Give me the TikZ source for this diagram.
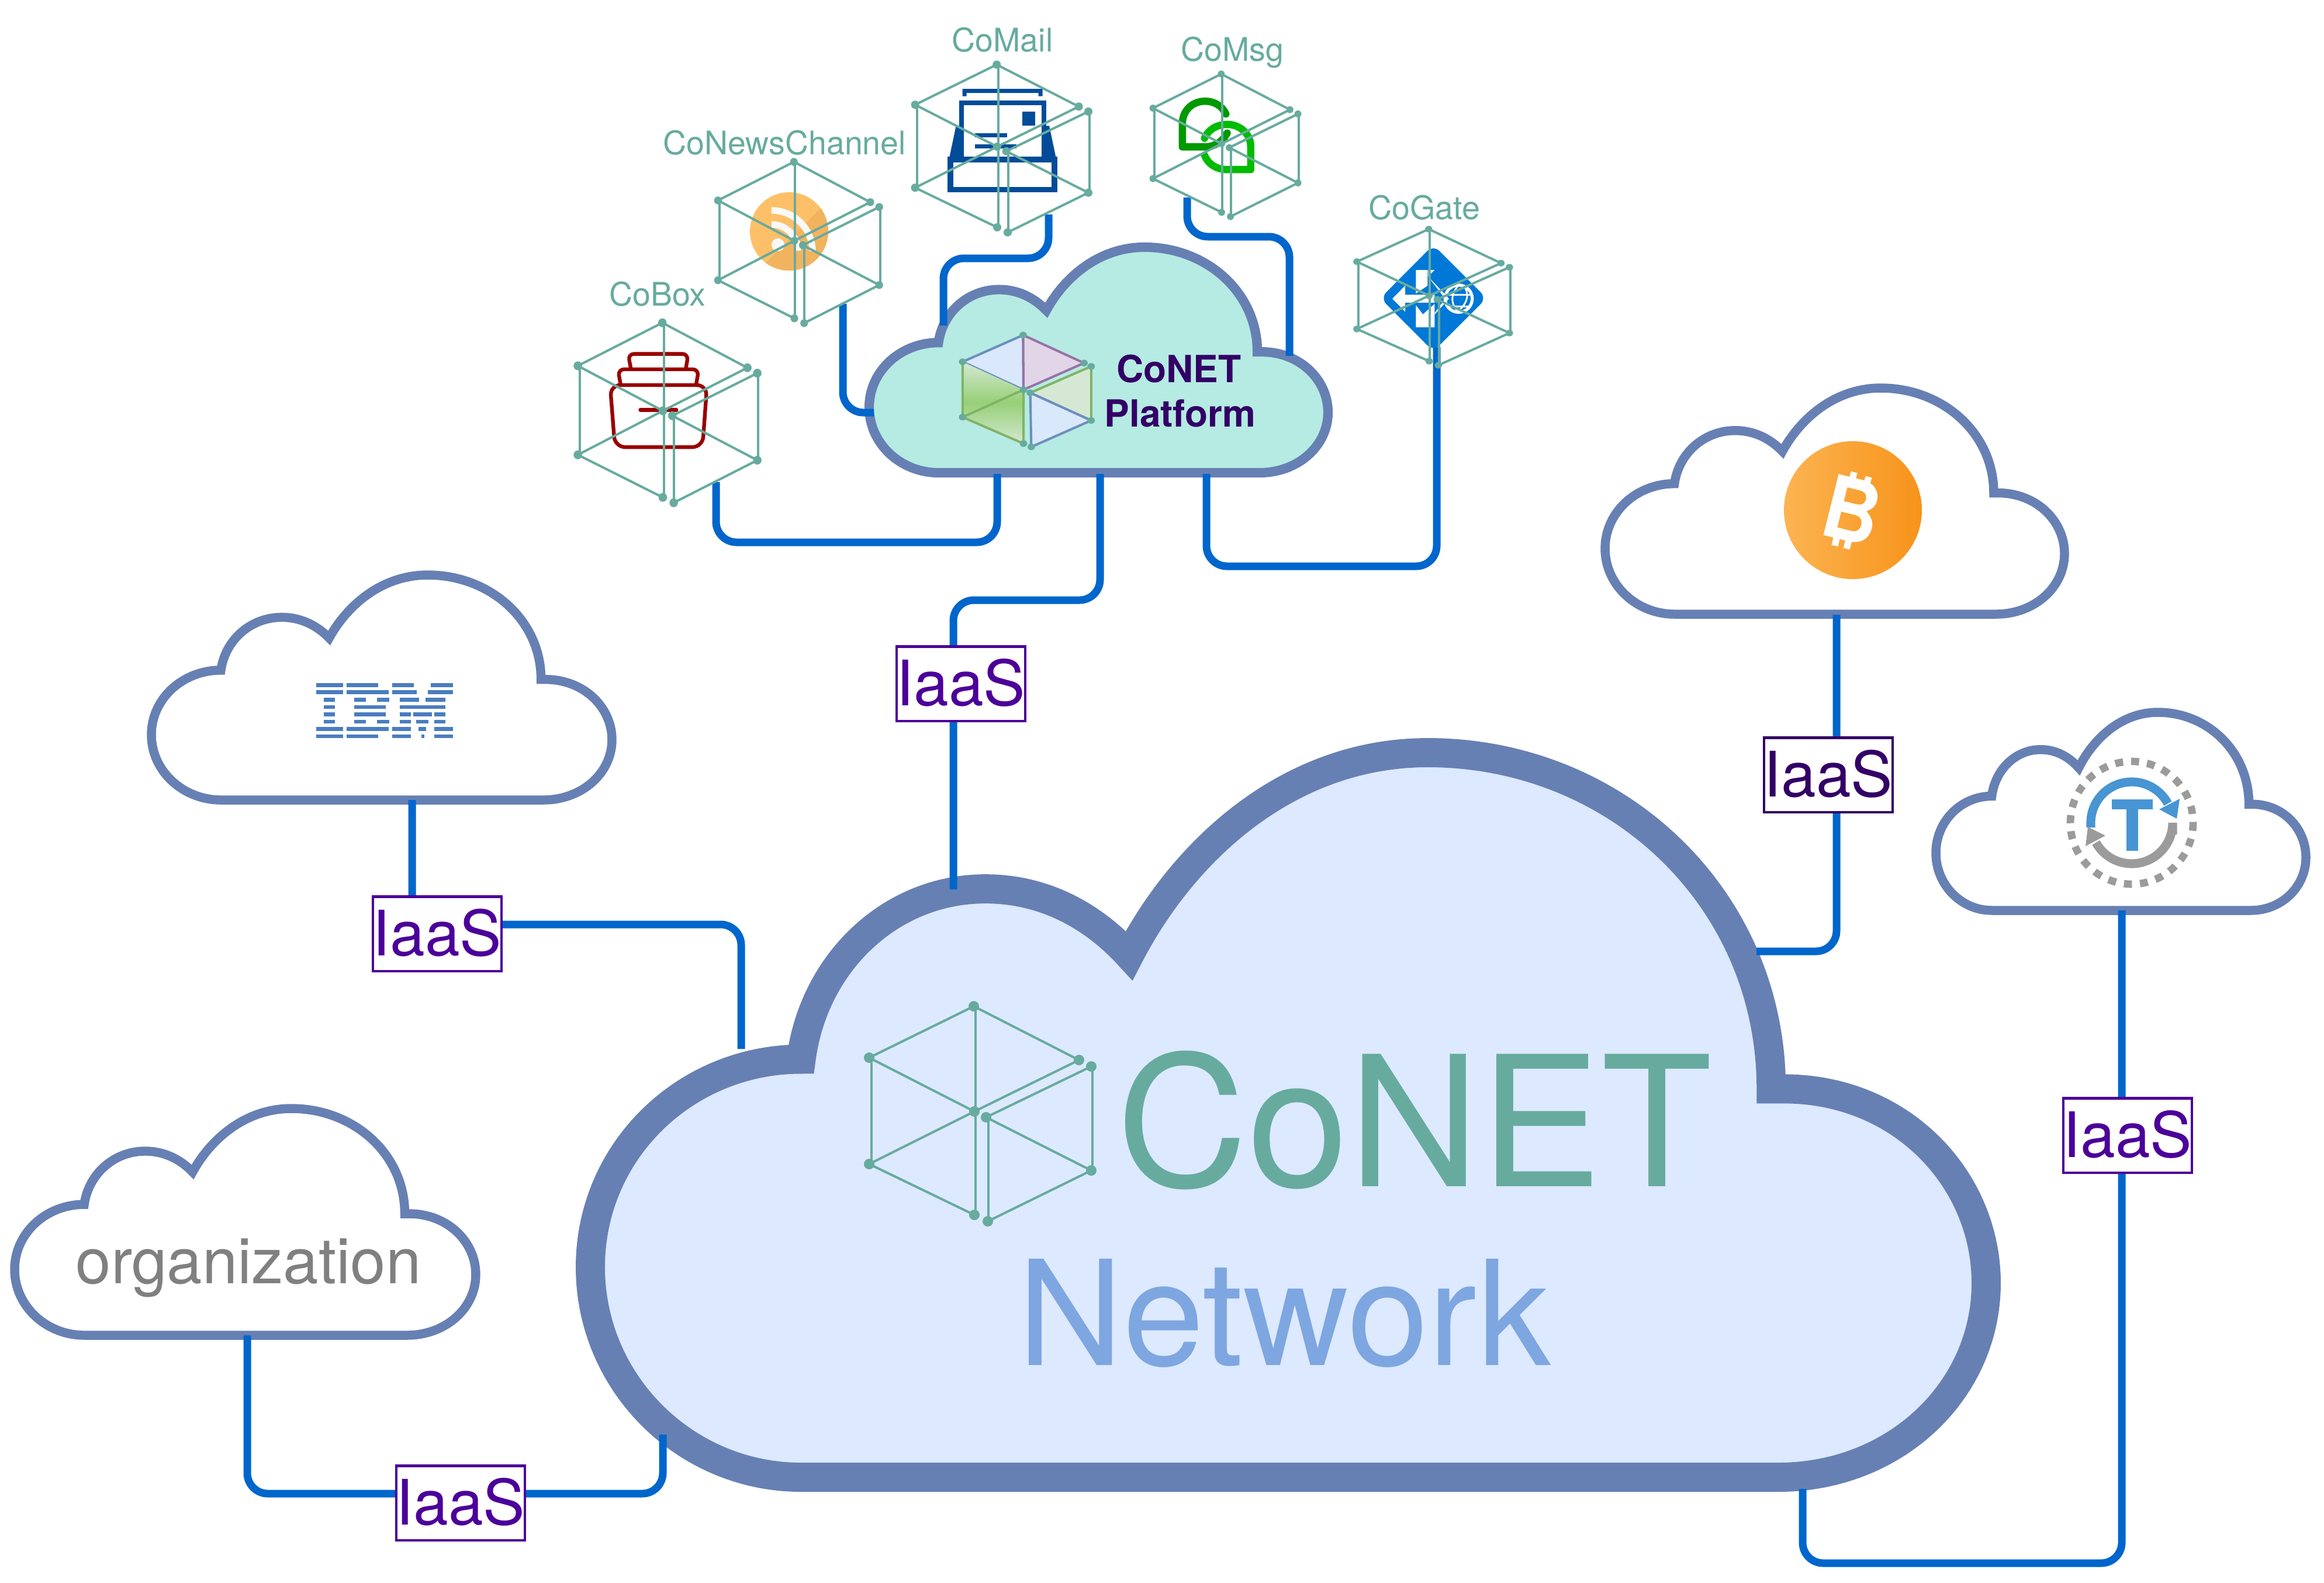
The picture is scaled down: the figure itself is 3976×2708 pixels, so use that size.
\documentclass[tikz,border=0pt]{standalone}
\usepackage{fontspec}
\setmainfont{TeX Gyre Heros}
\definecolor{cloudedge}{HTML}{6780B4}
\definecolor{netfill}{HTML}{DDE9FF}
\definecolor{platfill}{HTML}{B5EBE2}
\definecolor{wire}{HTML}{0066CC}
\definecolor{teal}{HTML}{67AB9F}
\definecolor{netblue}{HTML}{7EA6E0}
\definecolor{deep}{HTML}{330066}
\definecolor{iaaspurple}{HTML}{4C0099}
\definecolor{ibmblue}{HTML}{4A7DBF}
\definecolor{mailblue}{HTML}{004C99}
\definecolor{boxred}{HTML}{990000}
\definecolor{msgdark}{HTML}{009900}
\definecolor{msglight}{HTML}{00BB00}
\definecolor{gateblue}{HTML}{0078D7}
\definecolor{rsslight}{HTML}{FDC068}
\definecolor{rssdark}{HTML}{F2B35F}
\definecolor{btcl}{HTML}{FCB452}
\definecolor{btcr}{HTML}{F7931A}
\definecolor{tblue}{HTML}{4795D3}
\definecolor{tgray}{HTML}{9B9B9B}
\definecolor{fblue}{HTML}{DAE8FC}
\definecolor{eblue}{HTML}{6C8EBF}
\definecolor{fpurple}{HTML}{E1D5E7}
\definecolor{epurple}{HTML}{9673A6}
\definecolor{fgreen}{HTML}{D5E8D4}
\definecolor{mgreen}{HTML}{97D077}
\definecolor{egreen}{HTML}{82B366}
\tikzset{
  cloudbig/.style={draw=cloudedge,line width=14.2pt,fill=netfill,miter limit=10},
  cloudplat/.style={draw=cloudedge,line width=4.6pt,fill=platfill,miter limit=10},
  cloudsmall/.style={draw=cloudedge,line width=4.4pt,fill=white,miter limit=10},
  conn/.style={draw=wire,line width=3.7pt,rounded corners=10pt},
  iaasbox/.style={draw=iaaspurple,line width=1.15pt,fill=white,minimum width=219*0.2845pt,minimum height=127*0.2845pt,inner sep=0pt,text=iaaspurple,font=\fontsize{30.5pt}{36pt}\selectfont},
  cubeline/.style={draw=teal,line width=1.15pt},
  cubedot/.style={fill=teal},
  smalllabel/.style={text=teal,anchor=base,inner sep=0pt,font=\fontsize{15.8pt}{19pt}\selectfont},
}
\newcommand\cloudpath{(151,1000) .. controls (68,1000) and (0,870) .. (0,710) .. controls (0,550) and (68,423) .. (151,423) .. controls (160,290) and (215,188) .. (283,188) .. controls (325,188) and (360,225) .. (386,280) .. controls (425,135) and (500,0) .. (600,0) .. controls (735,0) and (846,200) .. (846,464) -- (855,464) .. controls (940,464) and (1000,590) .. (1000,732) .. controls (1000,880) and (935,1000) .. (851,1000) -- cycle}
\newcommand\cloudat[5]{\begin{scope}[shift={(#1,#2)},xscale=#3/1000,yscale=#4/1000]\path[#5] \cloudpath;\end{scope}}
\newcommand\cubeicon[4]{%
  \begin{scope}[shift={(#1,#2)},xscale=#3,yscale=#4]
    \draw[cubeline] (-1,-180)--(-180,-92)--(0,0)--(179,-88)--(-1,-180);
    \draw[cubeline] (2,-180)--(2,177);
    \draw[cubeline] (-176,-92)--(-176,90);
    \draw[cubeline] (-180,90)--(0,0);
    \draw[cubeline] (-180,90)--(0,177);
    \draw[cubeline] (20,10)--(200,-77);
    \draw[cubeline] (202,-77)--(202,101);
    \draw[cubeline] (20,10)--(200,101)--(23,188);
    \draw[cubeline] (24,10)--(24,188);
    \foreach \vx/\vy in {-1/-180,-180/-92,179/-88,0/0,-180/90,0/177,20/10,200/-77,200/101,23/188}
      \fill[cubedot] (\vx,\vy) circle[radius=9];
  \end{scope}}
\begin{document}
\begin{tikzpicture}[x=0.01cm,y=-0.01cm]
\useasboundingbox (0,0) rectangle (3976,2708);
% clouds
\cloudat{1010}{1288}{2388}{1240}{cloudbig}
\cloudat{1487}{423}{785}{386}{cloudplat}
\cloudat{259}{984}{788}{385}{cloudsmall}
\cloudat{25}{1897}{789}{388}{cloudsmall}
\cloudat{2746}{664}{786}{387}{cloudsmall}
\cloudat{3312}{1219}{633}{339}{cloudsmall}
% connector end points
\coordinate (netTop) at (1631,1522);
\coordinate (netTopA) at (1631,1027);
\coordinate (netTopB) at (1882,1027);
\coordinate (platBottom) at (1882,811);
\coordinate (ibmOut) at (705,1369);
\coordinate (ibmA) at (705,1582);
\coordinate (ibmB) at (1268,1582);
\coordinate (ibmIn) at (1268,1795);
\coordinate (orgOut) at (423,2285);
\coordinate (orgA) at (423,2556);
\coordinate (orgB) at (1134,2556);
\coordinate (orgIn) at (1134,2455);
\coordinate (btcOut) at (3142,1052);
\coordinate (btcA) at (3142,1628);
\coordinate (btcIn) at (3005,1628);
\coordinate (torOut) at (3630,1558);
\coordinate (torA) at (3630,2675);
\coordinate (torB) at (3084,2675);
\coordinate (torIn) at (3084,2548);
\coordinate (boxOut) at (1225,825);
\coordinate (boxA) at (1225,928);
\coordinate (boxB) at (1706,928);
\coordinate (boxIn) at (1706,811);
\coordinate (newsOut) at (1442,520);
\coordinate (newsA) at (1442,706);
\coordinate (newsIn) at (1495,706);
\coordinate (mailOut) at (1794,367);
\coordinate (mailA) at (1794,442);
\coordinate (mailB) at (1614,442);
\coordinate (mailIn) at (1614,557);
\coordinate (msgOut) at (2031,338);
\coordinate (msgA) at (2031,405);
\coordinate (msgB) at (2206,405);
\coordinate (msgIn) at (2206,609);
\coordinate (gateOut) at (2458,594);
\coordinate (gateA) at (2458,969);
\coordinate (gateB) at (2064,969);
\coordinate (gateIn) at (2064,811);
% connectors
\draw[conn] (netTop)--(netTopA)--(netTopB)--(platBottom);
\draw[conn] (ibmOut)--(ibmA)--(ibmB)--(ibmIn);
\draw[conn] (orgOut)--(orgA)--(orgB)--(orgIn);
\draw[conn] (btcOut)--(btcA)--(btcIn);
\draw[conn] (torOut)--(torA)--(torB)--(torIn);
\draw[conn] (boxOut)--(boxA)--(boxB)--(boxIn);
\draw[conn] (newsOut)--(newsA)--(newsIn);
\draw[conn] (mailOut)--(mailA)--(mailB)--(mailIn);
\draw[conn] (msgOut)--(msgA)--(msgB)--(msgIn);
\draw[conn] (gateOut)--(gateA)--(gateB)--(gateIn);
% IaaS boxes
\node[iaasbox] (iaasTop) at (1644,1170) {\raisebox{1.7pt}{IaaS}};
\node[iaasbox] (iaasIBM) at (748,1598) {\raisebox{1.7pt}{IaaS}};
\node[iaasbox] (iaasOrg) at (788,2572) {\raisebox{1.7pt}{IaaS}};
\node[iaasbox,draw=deep,text=deep] (iaasBtc) at (3128,1326) {\raisebox{1.7pt}{IaaS}};
\node[iaasbox] (iaasTor) at (3640,1943) {\raisebox{1.7pt}{IaaS}};
% main text
\node[anchor=base,inner sep=0pt,text=teal,font=\fontsize{88.4pt}{100pt}\selectfont] (conet) at (2420,2030) {CoNET};
\node[anchor=base,inner sep=0pt,text=netblue,font=\fontsize{71pt}{80pt}\selectfont] (network) at (2197,2336) {Network};
\node[anchor=base,inner sep=0pt,text=gray,font=\fontsize{30.9pt}{36pt}\selectfont] (org) at (425,2196) {organization};
\node[anchor=base,inner sep=0pt,text=deep,font=\fontsize{18.2pt}{22pt}\selectfont\bfseries] (plat1) at (2017,654) {CoNET};
\node[anchor=base,inner sep=0pt,text=deep,font=\fontsize{18.2pt}{22pt}\selectfont\bfseries] (plat2) at (2019,730) {Platform};
\node[smalllabel] (lbox) at (1125,523) {CoBox};
\node[smalllabel] (lnews) at (1342,264) {CoNewsChannel};
\node[smalllabel] (lmail) at (1715,88) {CoMail};
\node[smalllabel] (lmsg) at (2108,104) {CoMsg};
\node[smalllabel] (lgate) at (2437,375) {CoGate};
% IBM logo
\begin{scope}[shift={(500,1120)},scale=0.3333]
\foreach \r/\a/\b in {157/122/260,157/278/440,157/513/625,157/712/825,
  194/122/260,194/278/495,194/513/640,194/697/825,
  233/163/218,233/317/377,233/435/497,233/553/652,233/685/785,
  270/163/218,270/317/480,270/553/785,
  308/163/218,308/317/480,308/553/608,308/620/717,308/730/785,
  345/163/218,345/317/377,345/435/497,345/553/608,345/635/700,345/730/785,
  382/122/260,382/278/495,382/513/608,382/648/688,382/730/825,
  420/122/260,420/278/440,420/513/608,420/662/678,420/730/825}
  \fill[ibmblue] (\a,\r-10) rectangle (\b,\r+10);
\end{scope}
% bitcoin
\shade[left color=btcl,right color=btcr] (3170,873) circle[radius=118];
\node[inner sep=0pt,text=white,rotate=-14,xscale=0.9,font=\fontsize{42pt}{50pt}\selectfont\bfseries] (btcB) at (3169,873) {B};
\draw[white,line width=3.2pt] (3172,808)--(3166,832) (3197,816)--(3191,838) (3144,912)--(3139,934) (3165,917)--(3159,939);
% T icon
\draw[tgray,line width=3.6pt,dash pattern=on 3.9pt off 3.9pt] (3752,1408) arc[start angle=0,end angle=360,radius=105];
\draw[tblue,line width=4.3pt] (3577,1416) -- (3577,1408) arc[start angle=180,end angle=332,radius=70];
\fill[tblue] (3729,1367)--(3724,1401)--(3694,1385)--cycle;
\draw[tgray,line width=4.3pt] (3717,1428) -- (3717,1408) arc[start angle=0,end angle=151,radius=70];
\fill[tgray] (3572,1415)--(3568,1448)--(3602,1430)--cycle;
\fill[tblue] (3613,1368) rectangle (3683,1385);
\fill[tblue] (3638,1368) rectangle (3658,1456);
% RSS
\fill[rsslight] (1350,396) circle[radius=67];
\begin{scope}
\clip (1350,396) circle[radius=67];
\fill[rssdark] (1410,350)--(1326,434)--(1290,470)--(1290,480)--(1430,480)--(1430,350)--cycle;
\draw[white!95!gray,line width=3.2pt] (1320,360) arc[start angle=270,end angle=360,radius=70];
\draw[white!95!gray,line width=3.2pt] (1320,384) arc[start angle=270,end angle=360,radius=45];
\fill[white!95!gray] (1331,419) circle[radius=11];
\end{scope}
% CoMail icon
\begin{scope}[shift={(950,0)},xscale=0.6378,yscale=0.574]
\fill[mailblue] (1092,265) rectangle (1307,277) (1092,265) rectangle (1103,287) (1296,265) rectangle (1307,287);
\draw[mailblue,line width=2.3pt] (1090,475)--(1090,307)--(1310,307)--(1310,475);
\draw[mailblue,line width=2.7pt] (1060,476) rectangle (1339,565);
\fill[mailblue] (1057,470)--(1075,375)--(1090,375)--(1090,470)--cycle;
\fill[mailblue] (1343,470)--(1325,375)--(1310,375)--(1310,470)--cycle;
\fill[mailblue] (1253,333) rectangle (1287,375);
\fill[mailblue] (1125,397) rectangle (1212,410);
\fill[mailblue] (1125,430) rectangle (1237,443);
\end{scope}
% CoBox icon
\begin{scope}[shift={(950,0)},xscale=0.6378,yscale=0.574]
\draw[boxred,line width=1.8pt,rounded corners=3pt] (203,1100)--(195,1055)--(357,1055)--(350,1100);
\draw[boxred,line width=1.8pt,rounded corners=3pt] (175,1145)--(168,1101)--(385,1101)--(378,1145);
\draw[boxred,line width=1.8pt,rounded corners=5pt] (147,1148)--(407,1148)--(395,1333)--(160,1333)--cycle;
\draw[boxred,line width=1.8pt,line cap=round] (228,1222)--(325,1222);
\end{scope}
% CoMsg icon
\begin{scope}[shift={(1950,0)},scale=0.4464]
\draw[msgdark,line width=3.55pt,line cap=round,line join=round] (330,437) .. controls (315,405) and (285,388) .. (250,388) .. controls (200,388) and (163,425) .. (163,475) -- (163,563) -- (250,563) .. controls (285,563) and (315,545) .. (335,510);
\draw[msglight,line width=3.55pt,line cap=round,line join=round] (248,530) .. controls (262,497) and (295,477) .. (335,477) .. controls (385,477) and (425,515) .. (425,560) -- (425,650) -- (335,650) .. controls (295,650) and (262,630) .. (248,595);
\end{scope}
% CoGate icon
\begin{scope}[shift={(1950,0)},scale=0.4464]
\fill[gateblue,rounded corners=4pt] (1125,939)--(1329,1143)--(1125,1347)--(922,1143)--cycle;
\fill[white] (968,1145)--(1017,1095)--(1017,1130)--(1130,1130)--(1130,1160)--(1017,1160)--(1017,1195)--cycle;
\fill[white] (1058,1035)--(1103,1035)--(1103,1095)--(1058,1125)--cycle;
\fill[white] (1105,1035)--(1130,1035)--(1105,1060)--cycle;
\fill[white] (1105,1060)--(1185,1145)--(1112,1225)--(1170,1145)--cycle;
\fill[white] (1058,1170)--(1085,1205)--(1130,1165)--(1130,1255)--(1058,1255)--cycle;
\draw[white,line width=1.5pt] (1222,1145) circle[radius=52];
\draw[white,line width=0.8pt] (1175,1130)--(1270,1130) (1185,1175)--(1265,1175) (1222,1093) .. controls (1190,1130) and (1190,1165) .. (1222,1197) (1240,1095) .. controls (1270,1130) and (1250,1170) .. (1215,1197);
\end{scope}
% cubes
\cubeicon{1667}{1902}{1}{1}
\cubeicon{1134}{703}{0.808}{0.837}
\cubeicon{1359}{412}{0.726}{0.75}
\cubeicon{1706}{251}{0.78}{0.78}
\cubeicon{2090}{246}{0.653}{0.663}
\cubeicon{2445}{506}{0.687}{0.633}
% platform cube
\begin{scope}[shift={(1751,667)},xscale=0.579,yscale=0.52]
\tikzset{pe/.style={line width=1.15pt,line join=round}}
\filldraw[pe,fill=fblue,draw=eblue] (-1,-180)--(-180,-92)--(0,0)--cycle;
\filldraw[pe,fill=fpurple,draw=epurple] (-1,-180)--(179,-88)--(0,0)--cycle;
\shade[top color=fgreen,bottom color=fgreen,middle color=mgreen] (-180,-92)--(0,0)--(0,177)--(-180,90)--cycle;
\draw[pe,egreen] (-180,-92)--(-180,90)--(0,177)--(0,0)--(-180,90);
\filldraw[pe,fill=fgreen,draw=egreen] (20,10)--(200,-77)--(200,101)--cycle;
\filldraw[pe,fill=fblue,draw=eblue] (20,10)--(200,101)--(23,188)--cycle;
\foreach \vx/\vy in {-1/-180,-180/-92,179/-88,0/0,-180/90,0/177,20/10,200/-77,200/101,23/188}
  \fill[cubedot] (\vx,\vy) circle[radius=11];
\end{scope}
\end{tikzpicture}
\end{document}
